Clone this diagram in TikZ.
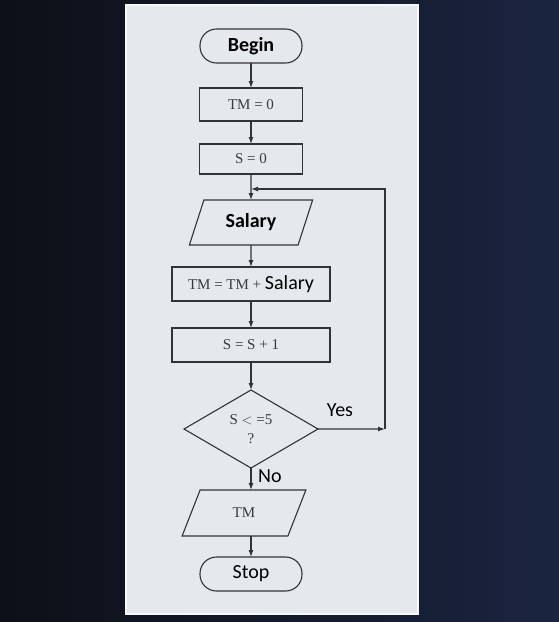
\documentclass[tikz,border=0pt]{standalone}
\usepackage{fontspec}
\setmainfont{Liberation Serif}
\setsansfont{Carlito}
\usetikzlibrary{arrows.meta,positioning,shapes.geometric}
\definecolor{screenl}{HTML}{0C1017}
\definecolor{screenr}{HTML}{1B2440}
\definecolor{paper}{HTML}{E4E9EE}
\definecolor{ink}{HTML}{333333}
\definecolor{serifink}{HTML}{3A3A3A}

\begin{document}
\begin{tikzpicture}[x=1pt, y=-1pt,
      ln/.style={draw=ink, line width=1.1pt},
      box/.style={ln, fill=paper, align=center, inner sep=1pt, outer sep=0pt, text=serifink, font=\fontsize{15}{19}\selectfont},
      proc/.style={box, minimum width=103pt, minimum height=33pt},
      wide/.style={box, minimum width=158pt, minimum height=34pt},
      term/.style={box, rounded corners=16.5pt, minimum width=102pt, minimum height=34pt, text=black, font=\sffamily\fontsize{20}{22}\selectfont},
      io/.style={box, trapezium, trapezium left angle=67, trapezium right angle=113, trapezium stretches=true, minimum width=124pt},
      cond/.style={box, diamond, inner sep=0pt, minimum width=134pt, minimum height=78pt},
      lbl/.style={text=black, font=\sffamily\fontsize{20}{22}\selectfont, inner sep=0pt},
      ar/.style={ln, -{Latex[length=7pt, width=5pt]}}]
    \useasboundingbox (0,0) rectangle (559,622);
    \shade[left color=screenl, right color=screenr] (0,0) rectangle (559,622);
    \fill[paper] (126,5) rectangle (418,614);
    \draw[white!70!paper, line width=1.5pt] (126,5) rectangle (418,614);

    \node[term, font=\sffamily\bfseries\fontsize{20}{22}\selectfont] (begin) at (251,46) {Begin};
    \node[proc, below=25pt of begin] (tm0) {TM = 0};
    \node[proc, below=23pt of tm0, minimum height=30pt] (s0) {S = 0};
    \node[io, below=26pt of s0, minimum height=45pt, text=black, font=\sffamily\bfseries\fontsize{20}{22}\selectfont] (sal) {Salary};
    \node[wide, below=22pt of sal] (tmsum) {TM = TM + {\sffamily\fontsize{20}{22}\selectfont\color{black}Salary}};
    \node[wide, below=27pt of tmsum] (ss1) {S = S + 1};
    \node[cond, below=28pt of ss1] (dec) {S $<$ =5\\?};
    \node[io, below=22pt of dec, xshift=-7pt, minimum height=46pt] (out) {TM};
    \node[term, below=21pt of out, xshift=7pt] (stop) {Stop};

    \node[lbl] (yes) at (340,410) {Yes};
    \node[lbl, anchor=west] (no) at (258,476) {No};

    \coordinate (turn) at (385,429);
    \coordinate (back) at (385,189);
    \coordinate (merge) at (251,189);

    \draw[ar] (begin) -- (tm0);
    \draw[ar] (tm0) -- (s0);
    \draw[ar] (s0) -- (sal);
    \draw[ar] (sal) -- (tmsum);
    \draw[ar] (tmsum) -- (ss1);
    \draw[ar] (ss1) -- (dec);
    \draw[ar] (dec.south) -- (dec.south |- out.north);
    \draw[ar] (out.south -| stop.north) -- (stop.north);
    \draw[ar] (dec.east) -- (turn);
    \draw[ar] (turn) -- (back) -- (merge);
  \end{tikzpicture}
\end{document}
